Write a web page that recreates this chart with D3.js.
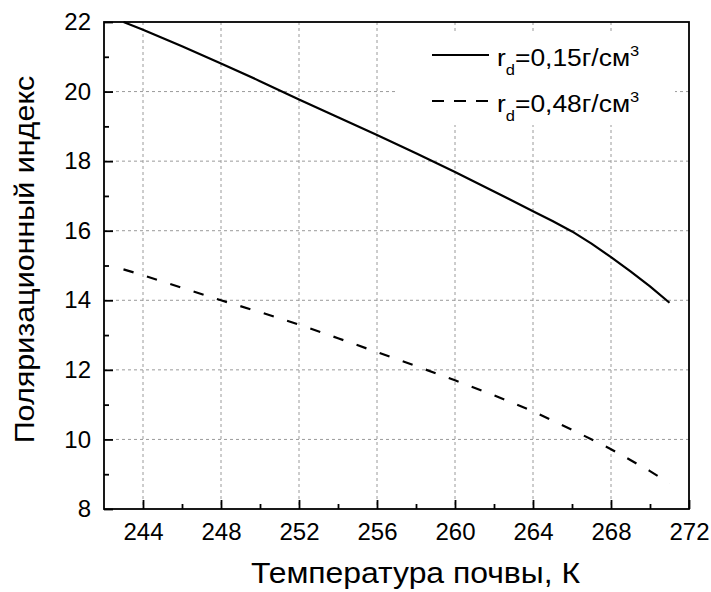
<!DOCTYPE html>
<html>
<head>
<meta charset="utf-8">
<script src="https://cdn.jsdelivr.net/npm/d3@7"></script>
<style>
  html, body { margin: 0; padding: 0; background: #fff; }
  svg { display: block; font-family: "Liberation Sans", Arial, sans-serif; }
</style>
</head>
<body>
<svg id="chart" width="711" height="592"></svg>
<script>
// Soil temperature, K
const temperature015 = [243, 244, 246, 248, 250, 252, 254, 256, 258, 260, 262, 264, 265, 266, 267, 268, 269, 270, 271];
// Polarization index for dry density 0.15 g/cm3
const index015 = [22.0, 21.78, 21.3, 20.81, 20.3, 19.77, 19.26, 18.75, 18.23, 17.69, 17.13, 16.56, 16.28, 15.98, 15.63, 15.24, 14.83, 14.40, 13.93];
// Soil temperature, K
const temperature048 = [243, 244, 246, 248, 250, 252, 254, 256, 258, 260, 262, 264, 266, 268, 270, 271];
// Polarization index for dry density 0.48 g/cm3
const index048 = [14.89, 14.72, 14.36, 14.0, 13.66, 13.3, 12.91, 12.51, 12.11, 11.7, 11.27, 10.81, 10.28, 9.72, 9.09, 8.74];

const xTicks = [244, 248, 252, 256, 260, 264, 268, 272];
const xMinorTicks = [246, 250, 254, 258, 262, 266, 270];
const yTicks = [8, 10, 12, 14, 16, 18, 20, 22];
const yMinorTicks = [9, 11, 13, 15, 17, 19, 21];

const svg = d3.select("#chart");
const plot = { left: 104, right: 689, top: 22, bottom: 509 };

const x = d3.scaleLinear().domain([242, 272]).range([plot.left, plot.right]);
const y = d3.scaleLinear().domain([8, 22]).range([plot.bottom, plot.top]);

// dashed grid at the major ticks
const grid = svg.append("g").attr("stroke", "#9a9a9a").attr("stroke-width", 1)
  .attr("stroke-dasharray", "3,3");
grid.selectAll("line.gx").data(xTicks.filter(v => v < 272)).join("line")
  .attr("x1", d => x(d)).attr("x2", d => x(d))
  .attr("y1", plot.top).attr("y2", plot.bottom);
grid.selectAll("line.gy").data(yTicks.filter(v => v > 8 && v < 22)).join("line")
  .attr("x1", plot.left).attr("x2", plot.right)
  .attr("y1", d => y(d)).attr("y2", d => y(d));

// curves
const line = d3.line().x(d => x(d[0])).y(d => y(d[1]));
svg.append("path")
  .datum(temperature015.map((t, i) => [t, index015[i]]))
  .attr("d", line).attr("fill", "none").attr("stroke", "#000")
  .attr("stroke-width", 2.2).attr("stroke-linejoin", "round");
svg.append("path")
  .datum(temperature048.map((t, i) => [t, index048[i]]))
  .attr("d", line).attr("fill", "none").attr("stroke", "#000")
  .attr("stroke-width", 2.2).attr("stroke-dasharray", "10.5,14");

// text helper: wide sans lettering, stretched along the writing direction
function wideText(parent, tx, ty, rotate, stretch) {
  return parent.append("g")
    .attr("transform", `translate(${tx},${ty}) rotate(${rotate}) scale(${stretch},1)`)
    .append("text").attr("fill", "#000");
}

// legend
const legend = svg.append("g");
legend.append("rect").attr("x", 397).attr("y", 33).attr("width", 278).attr("height", 92)
  .attr("fill", "#fff");
const legendItems = [
  { label: "=0,15г/см", dash: null, y: 55 },
  { label: "=0,48г/см", dash: "12,10", y: 101 }
];
legendItems.forEach(item => {
  legend.append("line").attr("x1", 432).attr("x2", 489)
    .attr("y1", item.y).attr("y2", item.y)
    .attr("stroke", "#000").attr("stroke-width", 2.2)
    .attr("stroke-dasharray", item.dash);
  const t = wideText(legend, 497, item.y + 11, 0, 1.1).attr("font-size", 24);
  t.append("tspan").text("r");
  t.append("tspan").attr("font-size", 15).attr("dy", 9).text("d");
  t.append("tspan").attr("dy", -9).text(item.label);
  t.append("tspan").attr("font-size", 15).attr("dy", -10).text("3");
});

// axes with inward ticks
svg.append("g").attr("transform", `translate(0,${plot.bottom})`)
  .call(d3.axisBottom(x).tickValues(xTicks).tickSize(-9).tickPadding(14).tickFormat(d3.format("d")));
svg.append("g").attr("transform", `translate(0,${plot.bottom})`)
  .call(d3.axisBottom(x).tickValues(xMinorTicks).tickSize(-5).tickFormat(""));
svg.append("g").attr("transform", `translate(${plot.left},0)`)
  .call(d3.axisLeft(y).tickValues(yTicks).tickSize(-9).tickPadding(13).tickFormat(d3.format("d")));
svg.append("g").attr("transform", `translate(${plot.left},0)`)
  .call(d3.axisLeft(y).tickValues(yMinorTicks).tickSize(-5).tickFormat(""));

svg.selectAll(".domain").remove();
svg.selectAll(".tick line").attr("stroke", "#000").attr("stroke-width", 1.8);
svg.selectAll(".tick text").attr("font-size", 24).attr("fill", "#000")
  .attr("font-family", "Liberation Sans, Arial, sans-serif");

// frame
svg.append("rect").attr("x", plot.left).attr("y", plot.top)
  .attr("width", plot.right - plot.left).attr("height", plot.bottom - plot.top)
  .attr("fill", "none").attr("stroke", "#000").attr("stroke-width", 1.8);

// axis titles
wideText(svg, 415.5, 583, 0, 1.1)
  .attr("text-anchor", "middle").attr("font-size", 29)
  .text("Температура почвы, К");
wideText(svg, 34, 259.5, -90, 1.13)
  .attr("text-anchor", "middle").attr("font-size", 27)
  .text("Поляризационный индекс");
</script>
</body>
</html>
